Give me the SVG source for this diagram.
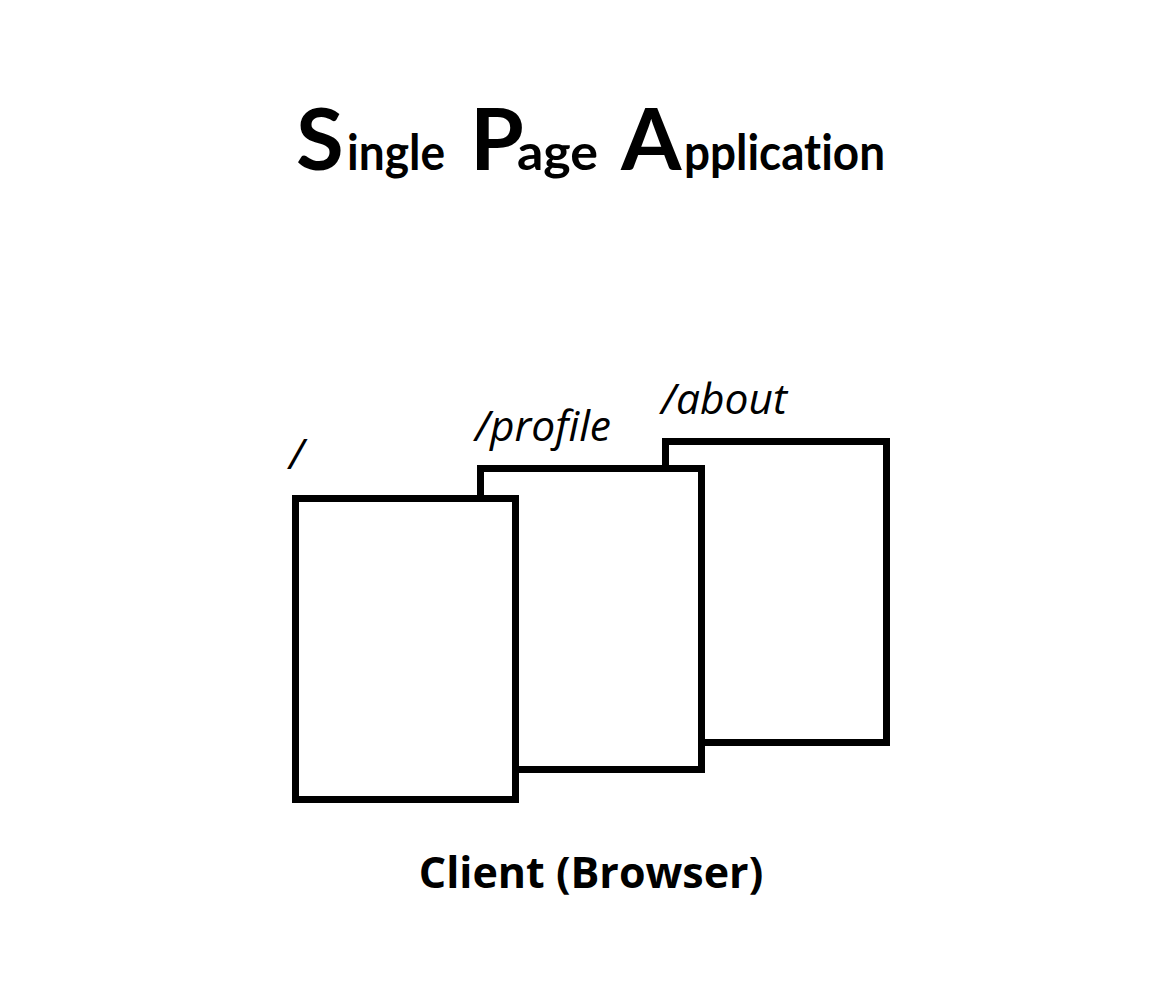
<svg xmlns="http://www.w3.org/2000/svg" width="1175" height="1002" viewBox="0 0 1175 1002">
  <style>
    .page { fill: #ffffff; stroke: #000000; stroke-width: 7; }
    .title { font-family: Lato, "Open Sans", sans-serif; font-weight: 700; fill: #000; font-variant-ligatures: none; }
    .cap { font-size: 87px; }
    .low { font-size: 50px; }
    .route { font-family: "Open Sans", sans-serif; font-style: italic; font-size: 42.5px; fill: #000; }
    .caption { font-family: "Open Sans", sans-serif; font-weight: 700; font-size: 43px; fill: #000; }
  </style>
  <rect width="1175" height="1002" fill="#ffffff"/>

  <g id="title">
    <text class="title" y="170"><tspan class="cap" x="296">S</tspan><tspan class="low" x="347" textLength="98" lengthAdjust="spacingAndGlyphs">ingle</tspan><tspan class="cap" x="470">P</tspan><tspan class="low" x="517" textLength="81" lengthAdjust="spacingAndGlyphs">age</tspan><tspan class="cap" x="621">A</tspan><tspan class="low" x="684" textLength="201" lengthAdjust="spacingAndGlyphs">pplication</tspan></text>
  </g>

  <g id="connectors"></g>

  <!-- pages stacked back to front -->
  <g id="page-about">
    <rect class="page" x="665.5" y="441.5" width="221" height="301"/>
    <text class="route" x="661" y="414">/about</text>
  </g>
  <g id="page-profile">
    <rect class="page" x="480.5" y="468.5" width="221" height="301"/>
    <text class="route" x="475" y="441">/profile</text>
  </g>
  <g id="page-root">
    <rect class="page" x="295.5" y="498.5" width="220" height="301"/>
    <text class="route" x="289" y="469">/</text>
  </g>

  <g id="client-label">
    <text class="caption" x="591" y="888" text-anchor="middle">Client (Browser)</text>
  </g>
</svg>
